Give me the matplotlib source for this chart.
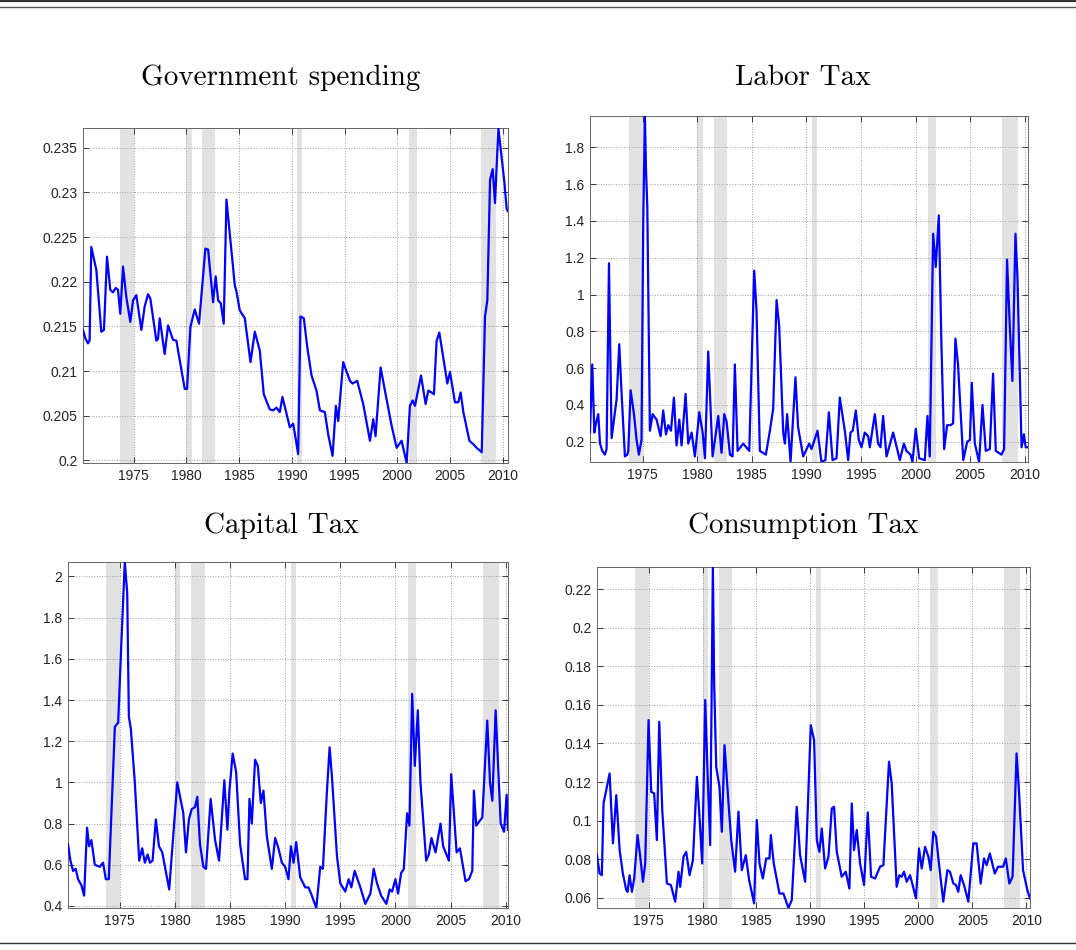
import matplotlib.pyplot as plt
from matplotlib.lines import Line2D
from matplotlib.ticker import FormatStrFormatter, MultipleLocator
import numpy as np

# recession bands (start, end) in years
recessions = [(1973.75, 1975.0), (1980.0, 1980.5), (1981.5, 1982.75),
              (1990.5, 1991.0), (2001.1, 2001.85), (2007.9, 2009.4)]

gov_year = [1970.19, 1970.44, 1970.66, 1970.82, 1970.98, 1971.46, 1971.93, 1972.18, 1972.47, 1972.78,
            1973.04, 1973.29, 1973.51, 1973.73, 1973.99, 1974.30, 1974.68, 1974.94, 1975.25, 1975.73,
            1976.04, 1976.36, 1976.58, 1977.15, 1977.31, 1977.47, 1977.94, 1978.26, 1978.73, 1979.05,
            1979.84, 1980.06, 1980.38, 1980.79, 1981.20, 1981.80, 1982.06, 1982.53, 1982.78, 1983.01,
            1983.26, 1983.54, 1983.80, 1984.59, 1984.75, 1985.06, 1985.54, 1986.08, 1986.49, 1986.96,
            1987.34, 1987.91, 1988.23, 1988.54, 1988.86, 1989.11, 1989.81, 1990.13, 1990.60, 1990.82,
            1991.14, 1991.46, 1991.87, 1992.34, 1992.66, 1993.13, 1993.45, 1993.86, 1994.18, 1994.40,
            1994.87, 1995.51, 1995.76, 1996.20, 1996.77, 1997.41, 1997.72, 1997.94, 1998.42, 1998.83,
            1999.46, 1999.94, 2000.41, 2000.89, 2001.20, 2001.46, 2001.68, 2002.25, 2002.69, 2002.94,
            2003.26, 2003.48, 2003.73, 2003.99, 2004.75, 2005.00, 2005.47, 2005.79, 2006.01, 2006.27,
            2006.84, 2007.22, 2007.53, 2008.01, 2008.32, 2008.54, 2008.80, 2009.05, 2009.27, 2009.59,
            2010.16, 2010.38, 2010.50]
gov_value = [0.2146, 0.2136, 0.2131, 0.2134, 0.2239, 0.2213, 0.2144, 0.2146, 0.2228, 0.2191,
             0.2188, 0.2193, 0.2191, 0.2164, 0.2217, 0.2183, 0.2155, 0.2179, 0.2185, 0.2146,
             0.2172, 0.2186, 0.2181, 0.2134, 0.2136, 0.2159, 0.2119, 0.2151, 0.2135, 0.2134,
             0.2080, 0.2080, 0.2149, 0.2169, 0.2153, 0.2237, 0.2236, 0.2177, 0.2206, 0.2179,
             0.2176, 0.2153, 0.2292, 0.2196, 0.2189, 0.2168, 0.2159, 0.2110, 0.2144, 0.2123,
             0.2074, 0.2057, 0.2056, 0.2059, 0.2054, 0.2071, 0.2037, 0.2041, 0.2007, 0.2161,
             0.2159, 0.2127, 0.2095, 0.2078, 0.2056, 0.2054, 0.2029, 0.2005, 0.2061, 0.2044,
             0.2110, 0.2089, 0.2086, 0.2089, 0.2063, 0.2022, 0.2046, 0.2027, 0.2104, 0.2078,
             0.2039, 0.2014, 0.2022, 0.1997, 0.2061, 0.2067, 0.2061, 0.2095, 0.2063, 0.2078,
             0.2076, 0.2074, 0.2134, 0.2143, 0.2086, 0.2099, 0.2065, 0.2065, 0.2076, 0.2054,
             0.2022, 0.2018, 0.2014, 0.2009, 0.2161, 0.2179, 0.2314, 0.2326, 0.2288, 0.2372,
             0.2311, 0.2281, 0.2279]

labor_year = [1970.18, 1970.39, 1970.58, 1970.73, 1970.94, 1971.10, 1971.31, 1971.55, 1971.70, 1971.92,
              1972.16, 1972.62, 1972.86, 1973.08, 1973.38, 1973.60, 1973.69, 1973.90, 1974.21, 1974.45,
              1974.66, 1974.90, 1975.06, 1975.21, 1975.31, 1975.43, 1975.67, 1975.92, 1976.28, 1976.65,
              1976.89, 1977.14, 1977.35, 1977.60, 1977.87, 1978.11, 1978.36, 1978.57, 1978.94, 1979.18,
              1979.49, 1979.79, 1980.19, 1980.50, 1980.71, 1981.01, 1981.41, 1981.93, 1982.23, 1982.48,
              1982.69, 1983.00, 1983.24, 1983.45, 1983.70, 1984.22, 1984.77, 1985.22, 1985.43, 1985.74,
              1986.29, 1986.66, 1986.96, 1987.27, 1987.51, 1987.88, 1988.03, 1988.24, 1988.55, 1989.00,
              1989.24, 1989.71, 1990.26, 1990.47, 1991.02, 1991.38, 1991.74, 1992.06, 1992.40, 1992.76,
              1993.06, 1993.52, 1993.83, 1994.04, 1994.25, 1994.53, 1994.80, 1995.05, 1995.35, 1995.66,
              1995.81, 1996.27, 1996.57, 1996.79, 1997.03, 1997.34, 1997.95, 1998.56, 1998.93, 1999.17,
              1999.54, 1999.72, 2000.02, 2000.33, 2000.85, 2001.09, 2001.30, 2001.61, 2001.85, 2002.13,
              2002.37, 2002.62, 2002.89, 2003.20, 2003.44, 2003.65, 2003.89, 2004.37, 2004.73, 2004.98,
              2005.15, 2005.43, 2005.82, 2006.13, 2006.43, 2006.80, 2007.10, 2007.35, 2007.87, 2008.11,
              2008.38, 2008.63, 2008.87, 2009.15, 2009.33, 2009.71, 2009.92, 2010.09, 2010.30]
labor_value = [0.25, 0.62, 0.25, 0.30, 0.35, 0.19, 0.15, 0.13, 0.16, 1.17,
               0.22, 0.43, 0.73, 0.46, 0.12, 0.13, 0.15, 0.48, 0.35, 0.21,
               0.13, 0.21, 1.40, 1.97, 1.68, 1.48, 0.26, 0.35, 0.32, 0.23,
               0.37, 0.24, 0.29, 0.26, 0.44, 0.18, 0.32, 0.18, 0.46, 0.19,
               0.25, 0.12, 0.36, 0.25, 0.11, 0.69, 0.12, 0.34, 0.14, 0.35,
               0.31, 0.13, 0.12, 0.62, 0.15, 0.19, 0.15, 1.13, 0.92, 0.15,
               0.13, 0.26, 0.38, 0.97, 0.83, 0.25, 0.19, 0.35, 0.09, 0.55,
               0.28, 0.12, 0.19, 0.16, 0.26, 0.09, 0.10, 0.36, 0.10, 0.11,
               0.44, 0.26, 0.10, 0.25, 0.26, 0.37, 0.21, 0.17, 0.25, 0.23,
               0.17, 0.35, 0.19, 0.17, 0.34, 0.12, 0.25, 0.10, 0.19, 0.15,
               0.13, 0.09, 0.27, 0.11, 0.10, 0.34, 0.12, 1.33, 1.15, 1.43,
               0.73, 0.16, 0.29, 0.29, 0.30, 0.76, 0.62, 0.10, 0.20, 0.21,
               0.52, 0.19, 0.09, 0.40, 0.15, 0.16, 0.57, 0.15, 0.13, 0.16,
               1.19, 0.83, 0.53, 1.33, 1.10, 0.17, 0.24, 0.17, 0.17]

capital_year = [1970.30, 1970.52, 1970.76, 1971.00, 1971.21, 1971.52, 1971.76, 1972.03, 1972.21, 1972.42,
                1972.73, 1973.18, 1973.48, 1973.73, 1974.00, 1974.55, 1974.85, 1975.15, 1975.45, 1975.67,
                1975.82, 1976.00, 1976.36, 1976.76, 1977.03, 1977.27, 1977.52, 1977.73, 1977.97, 1978.27,
                1978.55, 1978.85, 1979.48, 1980.21, 1980.76, 1981.00, 1981.27, 1981.52, 1981.82, 1982.03,
                1982.27, 1982.58, 1982.82, 1983.24, 1983.64, 1984.00, 1984.48, 1984.76, 1984.94, 1985.24,
                1985.55, 1985.91, 1986.36, 1986.58, 1986.76, 1986.97, 1987.27, 1987.52, 1987.79, 1988.03,
                1988.33, 1988.79, 1989.09, 1989.39, 1989.70, 1990.00, 1990.30, 1990.52, 1990.76, 1991.00,
                1991.36, 1991.82, 1992.12, 1992.42, 1992.82, 1993.18, 1993.42, 1993.79, 1994.03, 1994.24,
                1994.70, 1995.00, 1995.45, 1995.76, 1996.00, 1996.30, 1996.82, 1997.27, 1997.73, 1998.03,
                1998.33, 1998.70, 1999.18, 1999.48, 1999.70, 2000.00, 2000.24, 2000.52, 2000.76, 2001.06,
                2001.27, 2001.52, 2001.76, 2002.03, 2002.27, 2002.79, 2003.03, 2003.27, 2003.64, 2004.09,
                2004.33, 2004.85, 2005.06, 2005.55, 2005.85, 2006.36, 2006.67, 2006.97, 2007.12, 2007.33,
                2007.88, 2008.33, 2008.58, 2008.79, 2009.09, 2009.55, 2009.85, 2010.09, 2010.21]
capital_value = [0.70, 0.62, 0.57, 0.58, 0.53, 0.50, 0.45, 0.78, 0.69, 0.72,
                 0.60, 0.59, 0.61, 0.53, 0.53, 1.27, 1.29, 1.69, 2.07, 1.92,
                 1.32, 1.26, 1.00, 0.62, 0.68, 0.61, 0.65, 0.61, 0.62, 0.82,
                 0.69, 0.66, 0.48, 1.00, 0.85, 0.66, 0.82, 0.87, 0.88, 0.93,
                 0.70, 0.59, 0.58, 0.92, 0.72, 0.62, 1.01, 0.77, 0.96, 1.14,
                 1.05, 0.70, 0.53, 0.53, 0.92, 0.80, 1.11, 1.08, 0.90, 0.96,
                 0.74, 0.58, 0.73, 0.68, 0.61, 0.59, 0.53, 0.69, 0.61, 0.71,
                 0.54, 0.49, 0.49, 0.45, 0.39, 0.59, 0.58, 0.96, 1.17, 1.03,
                 0.64, 0.51, 0.47, 0.53, 0.49, 0.57, 0.49, 0.41, 0.46, 0.58,
                 0.51, 0.45, 0.41, 0.48, 0.47, 0.53, 0.46, 0.56, 0.58, 0.85,
                 0.79, 1.43, 1.08, 1.35, 1.00, 0.62, 0.65, 0.73, 0.66, 0.80,
                 0.69, 0.62, 1.04, 0.66, 0.68, 0.52, 0.53, 0.57, 0.96, 0.79,
                 0.83, 1.30, 1.00, 0.91, 1.35, 0.80, 0.76, 0.94, 0.77]

cons_year = [1970.22, 1970.46, 1970.67, 1970.83, 1971.39, 1971.70, 1972.01, 1972.32, 1972.62, 1972.93,
             1973.06, 1973.24, 1973.46, 1973.67, 1973.98, 1974.23, 1974.48, 1974.69, 1975.00, 1975.25,
             1975.52, 1975.77, 1975.99, 1976.27, 1976.70, 1977.07, 1977.47, 1977.78, 1977.93, 1978.24,
             1978.49, 1978.80, 1979.11, 1979.48, 1979.72, 1979.97, 1980.25, 1980.46, 1980.71, 1980.96,
             1981.08, 1981.27, 1981.57, 1981.79, 1982.04, 1982.41, 1982.66, 1983.02, 1983.33, 1983.64,
             1984.01, 1984.32, 1984.78, 1985.03, 1985.28, 1985.59, 1985.90, 1986.20, 1986.33, 1986.60,
             1987.13, 1987.50, 1987.96, 1988.27, 1988.73, 1989.04, 1989.51, 1990.03, 1990.34, 1990.59,
             1990.83, 1991.05, 1991.36, 1991.67, 1991.98, 1992.19, 1992.44, 1992.90, 1993.27, 1993.61,
             1993.83, 1994.04, 1994.29, 1994.60, 1994.97, 1995.31, 1995.62, 1995.99, 1996.45, 1996.76,
             1997.28, 1997.53, 1997.99, 1998.24, 1998.46, 1998.67, 1998.92, 1999.23, 1999.47, 1999.78,
             2000.06, 2000.31, 2000.62, 2000.93, 2001.14, 2001.39, 2001.64, 2002.01, 2002.31, 2002.69,
             2002.93, 2003.24, 2003.49, 2003.70, 2003.92, 2004.23, 2004.63, 2005.09, 2005.40, 2005.77,
             2006.08, 2006.33, 2006.62, 2007.08, 2007.39, 2007.85, 2008.10, 2008.43, 2008.73, 2009.10,
             2009.32, 2009.70, 2010.10, 2010.34]
cons_value = [0.0821, 0.0726, 0.0717, 0.1089, 0.1244, 0.0882, 0.1132, 0.0847, 0.0726, 0.0640,
              0.0631, 0.0717, 0.0631, 0.0700, 0.0925, 0.0813, 0.0683, 0.0778, 0.1521, 0.1149,
              0.1141, 0.0899, 0.1512, 0.1054, 0.0674, 0.0666, 0.0580, 0.0735, 0.0657, 0.0813,
              0.0838, 0.0717, 0.0795, 0.1227, 0.1020, 0.0778, 0.1625, 0.1262, 0.0873, 0.2314,
              0.1711, 0.1279, 0.1175, 0.0942, 0.1391, 0.1089, 0.0899, 0.0735, 0.1046, 0.0743,
              0.0821, 0.0692, 0.0571, 0.1003, 0.0778, 0.0700, 0.0804, 0.0804, 0.0925, 0.0778,
              0.0622, 0.0622, 0.0547, 0.0588, 0.1072, 0.0821, 0.0683, 0.1495, 0.1417, 0.0899,
              0.0838, 0.0959, 0.0752, 0.0813, 0.1063, 0.1072, 0.0838, 0.0709, 0.0735, 0.0648,
              0.1089, 0.0847, 0.0951, 0.0778, 0.0666, 0.1043, 0.0709, 0.0700, 0.0761, 0.0769,
              0.1305, 0.1193, 0.0657, 0.0717, 0.0709, 0.0735, 0.0683, 0.0717, 0.0666, 0.0597,
              0.0856, 0.0752, 0.0864, 0.0813, 0.0743, 0.0942, 0.0916, 0.0726, 0.0580, 0.0743,
              0.0735, 0.0674, 0.0666, 0.0631, 0.0717, 0.0666, 0.0580, 0.0882, 0.0882, 0.0674,
              0.0804, 0.0769, 0.0830, 0.0726, 0.0761, 0.0761, 0.0804, 0.0674, 0.0709, 0.1348,
              0.1158, 0.0743, 0.0640, 0.0597]

titles = ['Government spending', 'Labor Tax', 'Capital Tax', 'Consumption Tax']
years = [gov_year, labor_year, capital_year, cons_year]
values = [gov_value, labor_value, capital_value, cons_value]
y_steps = [0.005, 0.2, 0.2, 0.02]

# axes boxes [left, bottom, width, height] in figure fractions
boxes = [[0.0771, 0.5126, 0.3950, 0.3526],
         [0.5483, 0.5137, 0.4071, 0.3642],
         [0.0632, 0.0442, 0.4089, 0.3642],
         [0.5548, 0.0442, 0.4024, 0.3589]]
title_pos = [(0.2612, 0.918), (0.7463, 0.918), (0.2612, 0.447), (0.7463, 0.447)]

plt.rcParams['font.family'] = ['Liberation Sans', 'DejaVu Sans']

fig = plt.figure(figsize=(10.76, 9.5), dpi=100)

for i in range(4):
    ax = fig.add_axes(boxes[i])
    x = np.array(years[i])
    y = np.array(values[i])
    for r0, r1 in recessions:
        ax.axvspan(r0, r1, color='#e2e2e2', lw=0, zorder=0)
    ax.plot(x, y, color='#0000ff', linewidth=1.6, zorder=3)
    ax.set_xlim(x.min(), x.max())
    ax.set_ylim(y.min(), y.max())
    ax.xaxis.set_major_locator(MultipleLocator(5))
    ax.yaxis.set_major_locator(MultipleLocator(y_steps[i]))
    ax.yaxis.set_major_formatter(FormatStrFormatter('%g'))
    ax.grid(True, linestyle=':', color='#a0a0a0', linewidth=0.7, zorder=1)
    ax.set_axisbelow(True)
    ax.tick_params(direction='in', top=True, right=True, length=4, width=0.6,
                   labelsize=10, colors='#222222', pad=4)
    for s in ax.spines.values():
        s.set_color('#666666')
        s.set_linewidth(0.7)
    fig.text(title_pos[i][0], title_pos[i][1], titles[i], family='cmr10',
             fontsize=21, ha='center', va='center')

# page rules
fig.add_artist(Line2D([0, 1], [0.9985, 0.9985], color='#333333', linewidth=1.6))
fig.add_artist(Line2D([0, 1], [0.9925, 0.9925], color='#555555', linewidth=1.0))
fig.add_artist(Line2D([0, 1], [0.0075, 0.0075], color='#333333', linewidth=1.0))

fig.savefig('out.png', dpi=100)
